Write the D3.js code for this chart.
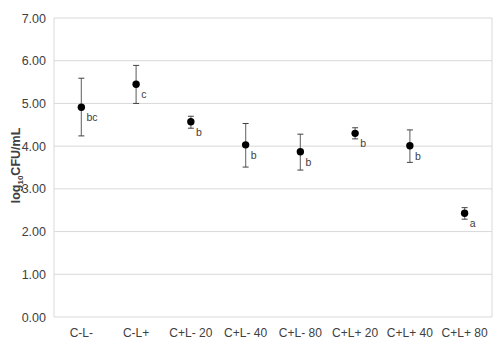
<!DOCTYPE html>
<html>
<head>
<meta charset="utf-8">
<script src="https://cdn.jsdelivr.net/npm/d3@7"></script>
<style>
  body { margin: 0; background: #fff; }
  text { font-family: "Liberation Sans", Arial, sans-serif; }
</style>
</head>
<body>
<svg id="chart" width="498" height="352"></svg>
<script>
// chart data
const categories = ["C-L-", "C-L+", "C+L- 20", "C+L- 40", "C+L- 80", "C+L+ 20", "C+L+ 40", "C+L+ 80"]
const means      = [4.91, 5.45, 4.57, 4.03, 3.87, 4.30, 4.01, 2.43]
const upper      = [5.59, 5.89, 4.70, 4.53, 4.28, 4.43, 4.38, 2.56]
const lower      = [4.24, 5.00, 4.42, 3.51, 3.44, 4.17, 3.62, 2.29]
const letters    = ["bc", "c", "b", "b", "b", "b", "b", "a"]
const yTicks     = [0, 1, 2, 3, 4, 5, 6, 7]

const margin = {top: 18, right: 6, bottom: 35, left: 54}
const width  = 498 - margin.left - margin.right
const height = 352 - margin.top - margin.bottom

const svg = d3.select("#chart")
const g = svg.append("g").attr("transform", `translate(${margin.left},${margin.top})`)

const x = d3.scaleBand().domain(categories).range([0, width])
const y = d3.scaleLinear().domain([0, 7]).range([height, 0])

// gridlines
g.selectAll(".grid")
  .data(yTicks)
  .join("line")
  .attr("x1", 0).attr("x2", width)
  .attr("y1", d => y(d)).attr("y2", d => y(d))
  .attr("stroke", "#d9d9d9")
  .attr("stroke-width", 1)

// plot area border sides
g.append("line").attr("x1", 0).attr("x2", 0).attr("y1", 0).attr("y2", height).attr("stroke", "#d9d9d9")
g.append("line").attr("x1", width).attr("x2", width).attr("y1", 0).attr("y2", height).attr("stroke", "#d9d9d9")

// y axis tick labels
const yAxis = d3.axisLeft(y).tickValues(yTicks).tickFormat(d3.format(".2f")).tickSize(0).tickPadding(8)
g.append("g").call(yAxis)
  .call(a => a.select(".domain").remove())
  .selectAll("text")
  .attr("font-size", 12.5)
  .attr("fill", "#404040")
  .style("font-family", "Liberation Sans, Arial, sans-serif")

// x axis labels
const xAxis = d3.axisBottom(x).tickSize(0).tickPadding(11)
g.append("g").attr("transform", `translate(0,${height})`).call(xAxis)
  .call(a => a.select(".domain").remove())
  .selectAll("text")
  .attr("font-size", 12)
  .attr("fill", "#404040")
  .style("font-family", "Liberation Sans, Arial, sans-serif")

// y axis title, with subscript 10
const title = svg.append("text")
  .attr("transform", `translate(20,${margin.top + height / 2 - 2}) rotate(-90)`)
  .attr("text-anchor", "middle")
  .attr("font-size", 12.5)
  .attr("font-weight", "bold")
  .attr("fill", "#404040")
title.append("tspan").text("log")
title.append("tspan").attr("font-size", 8).attr("dy", 3).text("10")
title.append("tspan").attr("dy", -3).text("CFU/mL")

const cx = i => x(categories[i]) + x.bandwidth() / 2

// error bars
const idx = d3.range(categories.length)
const bars = g.selectAll(".err").data(idx).join("g")
bars.append("line")
  .attr("x1", cx).attr("x2", cx)
  .attr("y1", i => y(upper[i])).attr("y2", i => y(lower[i]))
  .attr("stroke", "#808080").attr("stroke-width", 1.3)
bars.append("line")
  .attr("x1", i => cx(i) - 3).attr("x2", i => cx(i) + 3)
  .attr("y1", i => y(upper[i])).attr("y2", i => y(upper[i]))
  .attr("stroke", "#404040").attr("stroke-width", 1)
bars.append("line")
  .attr("x1", i => cx(i) - 3).attr("x2", i => cx(i) + 3)
  .attr("y1", i => y(lower[i])).attr("y2", i => y(lower[i]))
  .attr("stroke", "#404040").attr("stroke-width", 1)

// points
g.selectAll(".pt").data(idx).join("circle")
  .attr("cx", cx)
  .attr("cy", i => y(means[i]))
  .attr("r", 3.7)
  .attr("fill", "#000")

// significance letters
g.selectAll(".lbl").data(idx).join("text")
  .attr("x", i => cx(i) + 5)
  .attr("y", i => y(means[i]) + 14)
  .attr("font-size", 10.5)
  .attr("fill", "#404040")
  .text(i => letters[i])
</script>
</body>
</html>
